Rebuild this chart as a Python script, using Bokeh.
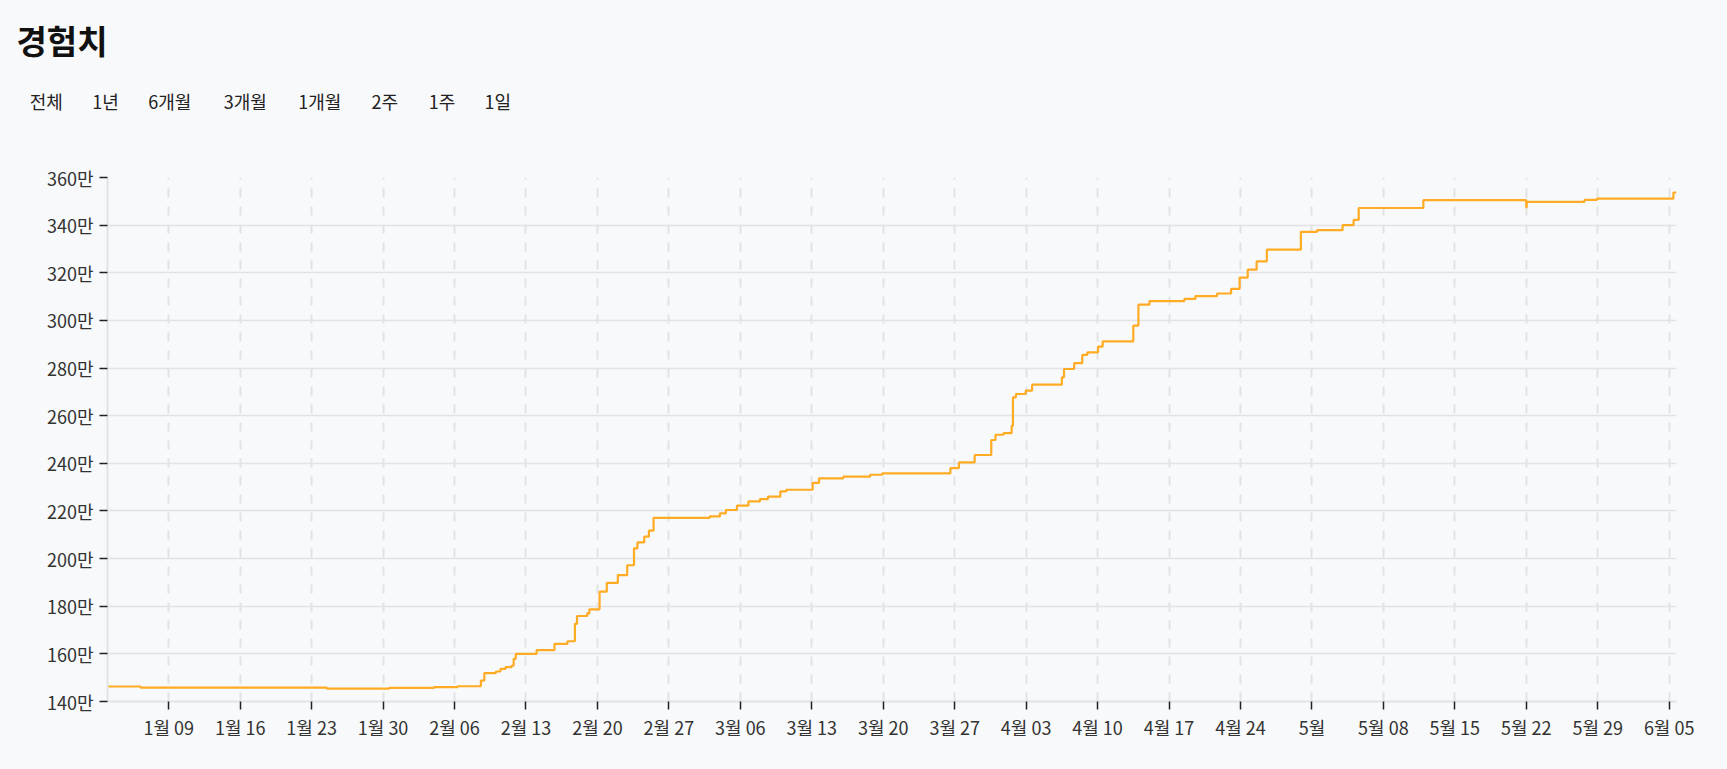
import pandas as pd
from bokeh.plotting import figure
from bokeh.core.properties import value
from bokeh.models import Range1d, FixedTicker, CustomJSTickFormatter, SingleIntervalTicker
from bokeh.embed import file_html
from bokeh.resources import INLINE

# ---------------- data ----------------
TITLE = "경험치"
RANGE_BUTTONS = ["전체", "1년", "6개월", "3개월", "1개월", "2주", "1주", "1일"]

times = [
    "2022-01-03 00:00", "2022-01-06 06:00", "2022-01-24 12:00", "2022-01-30 14:00",
    "2022-02-04 00:00", "2022-02-06 07:00", "2022-02-08 14:00", "2022-02-08 22:00",
    "2022-02-10 01:00", "2022-02-10 12:00", "2022-02-11 00:00", "2022-02-11 14:00",
    "2022-02-11 19:00", "2022-02-12 00:00", "2022-02-14 01:00", "2022-02-15 19:00",
    "2022-02-17 01:30", "2022-02-17 19:00", "2022-02-18 00:00", "2022-02-19 00:00",
    "2022-02-19 05:00", "2022-02-20 05:00", "2022-02-20 22:00", "2022-02-22 00:00",
    "2022-02-22 22:00", "2022-02-23 14:00", "2022-02-23 22:00", "2022-02-24 14:00",
    "2022-02-25 01:00", "2022-02-25 12:00", "2022-03-03 00:00", "2022-03-04 00:00",
    "2022-03-04 14:00", "2022-03-05 16:00", "2022-03-06 19:00", "2022-03-07 22:00",
    "2022-03-08 17:00", "2022-03-09 22:00", "2022-03-10 12:00", "2022-03-13 02:00",
    "2022-03-13 17:00", "2022-03-16 02:00", "2022-03-18 17:00", "2022-03-19 22:00",
    "2022-03-26 14:00", "2022-03-27 10:00", "2022-03-28 23:00", "2022-03-30 14:00",
    "2022-03-31 00:00", "2022-03-31 19:00", "2022-04-01 14:00", "2022-04-01 17:00",
    "2022-04-02 00:00", "2022-04-02 23:00", "2022-04-03 14:00", "2022-04-06 12:00",
    "2022-04-06 17:00", "2022-04-07 17:00", "2022-04-08 12:00", "2022-04-09 00:00",
    "2022-04-10 01:00", "2022-04-10 12:00", "2022-04-13 12:00", "2022-04-14 00:00",
    "2022-04-15 02:00", "2022-04-18 12:00", "2022-04-19 14:00", "2022-04-21 17:00",
    "2022-04-23 02:00", "2022-04-23 22:00", "2022-04-24 17:00", "2022-04-25 14:00",
    "2022-04-26 14:00", "2022-04-29 22:00", "2022-05-01 12:00", "2022-05-04 00:00",
    "2022-05-05 02:00", "2022-05-05 14:00", "2022-05-11 22:00", "2022-05-22 00:00",
    "2022-05-22 01:00", "2022-05-27 17:00", "2022-05-28 22:00", "2022-06-05 10:00",
    "2022-06-05 17:15",
]
xp = [
    1463000, 1458000, 1454000, 1457000,
    1460000, 1464000, 1488000, 1519000,
    1526000, 1537000, 1544000, 1550000,
    1579000, 1600000, 1616000, 1642000,
    1653000, 1726000, 1759000, 1770000,
    1787000, 1861000, 1898000, 1931000,
    1972000, 2043000, 2068000, 2092000,
    2117000, 2171000, 2177000, 2190000,
    2204000, 2222000, 2240000, 2250000,
    2260000, 2282000, 2289000, 2318000,
    2337000, 2344000, 2352000, 2358000,
    2380000, 2404000, 2435000, 2498000,
    2520000, 2527000, 2557000, 2677000,
    2691000, 2705000, 2730000, 2761000,
    2796000, 2821000, 2855000, 2866000,
    2890000, 2912000, 2978000, 3066000,
    3081000, 3090000, 3102000, 3113000,
    3132000, 3180000, 3213000, 3248000,
    3297000, 3372000, 3379000, 3400000,
    3422000, 3472000, 3505000, 3474000,
    3498000, 3506000, 3511000, 3537000,
    3537000,
]

X_START, X_END = "2022-01-03 00:00", "2022-06-05 17:15"
Y_MIN, Y_MAX, Y_STEP = 1400000, 3600000, 200000
TICK_FIRST, TICK_LAST = "2022-01-09", "2022-06-05"

# ---------------- layout ----------------
W = 1720
HEAD_H = 120
MAIN_H = 645
FRAME_L, FRAME_R, FRAME_T, FRAME_B = 107, 1676, 177, 701   # page pixels
FONT = "Noto Sans CJK KR"
BG = "#f8f9fa"
GRID = "#e2e3e5"

# header (title + range buttons); pixel-like coordinates, y downwards
head = figure(width=W, height=HEAD_H, x_range=Range1d(0, W), y_range=Range1d(HEAD_H, 0),
              output_backend="svg", toolbar_location=None,
              x_axis_location=None, y_axis_location=None,
              min_border_left=0, min_border_right=0, min_border_top=0, min_border_bottom=0)
head.grid.visible = False
head.outline_line_color = None
head.background_fill_color = BG
head.border_fill_color = BG
head.text(x=[16], y=[39], text=[TITLE], text_font=value(FONT), text_font_size="33px",
          text_font_style="bold", text_color="#111111", text_baseline="middle")
btn_x = [29.3, 91.7, 147.7, 223.3, 297.7, 371.0, 428.3, 484.0]
head.text(x=btn_x, y=[100] * len(btn_x), text=RANGE_BUTTONS, text_font=value(FONT),
          text_font_size="18px", text_color="#222222", text_baseline="middle")

# main chart
x = pd.to_datetime(times)
p = figure(width=W, height=MAIN_H, x_axis_type="datetime",
           x_range=Range1d(pd.Timestamp(X_START), pd.Timestamp(X_END)),
           y_range=Range1d(Y_MIN, Y_MAX),
           output_backend="svg", toolbar_location=None,
           min_border_left=FRAME_L, min_border_right=W - FRAME_R,
           min_border_top=FRAME_T - HEAD_H, min_border_bottom=HEAD_H + MAIN_H - FRAME_B)
p.background_fill_color = BG
p.border_fill_color = BG
p.outline_line_color = None

p.step(x, xp, mode="after", line_color="#ffab24", line_width=2.2)

week_ticks = [int(t.value // 10**6) for t in pd.date_range(TICK_FIRST, TICK_LAST, freq="7D")]
p.xaxis.ticker = FixedTicker(ticks=week_ticks)
p.xaxis.formatter = CustomJSTickFormatter(code="""
const d = new Date(tick);
const m = d.getUTCMonth() + 1, day = d.getUTCDate();
return day === 1 ? m + '월' : m + '월 ' + String(day).padStart(2, '0');
""")
p.yaxis.ticker = SingleIntervalTicker(interval=Y_STEP, num_minor_ticks=0)
p.yaxis.formatter = CustomJSTickFormatter(code="return (tick / 10000).toFixed(0) + '만';")

for ax in (p.xaxis[0], p.yaxis[0]):
    ax.axis_line_color = GRID
    ax.axis_line_width = 2
    ax.major_tick_line_color = "#222222"
    ax.major_tick_line_width = 1.5
    ax.major_tick_out = 8
    ax.major_tick_in = 0
    ax.minor_tick_line_color = None
    ax.major_label_text_font = FONT
    ax.major_label_text_color = "#333333"
    ax.major_label_text_font_size = "18px"
p.yaxis.major_label_standoff = 6
p.xaxis.major_label_standoff = 4

p.ygrid.grid_line_color = GRID
p.ygrid.grid_line_width = 1.5
p.xgrid.grid_line_color = GRID
p.xgrid.grid_line_width = 2
p.xgrid.grid_line_dash = "9 9"

html = file_html([head, p], INLINE, title="경험치")
style = (f"<style>html, body {{ background: {BG} !important; }} "
         f".bk-root, body > div {{ background: {BG}; line-height: 0; }}</style>")
html = html.replace("</head>", style + "</head>", 1)
open("out.html", "w").write(html)
